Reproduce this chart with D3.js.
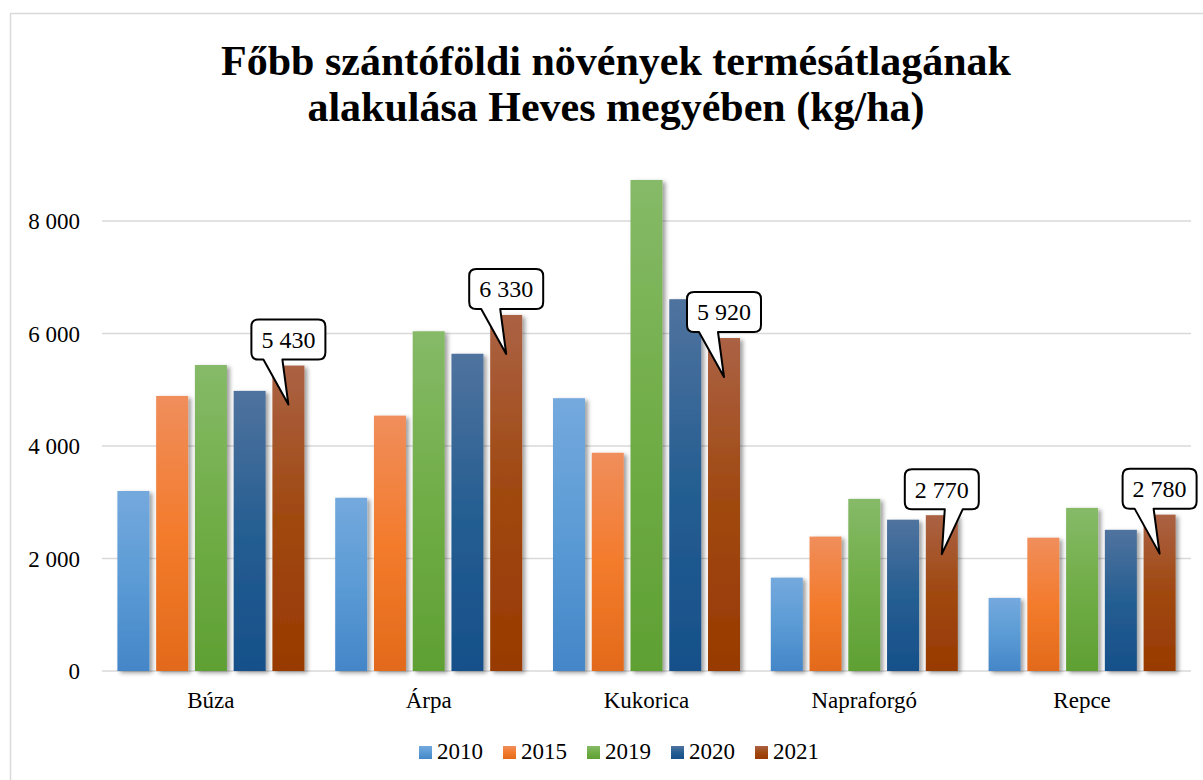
<!DOCTYPE html>
<html>
<head>
<meta charset="utf-8">
<script src="https://cdn.jsdelivr.net/npm/d3@7"></script>
<style>
  html, body { margin: 0; padding: 0; background: #fff; }
  svg { display: block; }
</style>
</head>
<body>
<svg id="chart" width="1203" height="780"></svg>
<script>
const titleLines = ["Főbb szántóföldi növények termésátlagának", "alakulása Heves megyében (kg/ha)"];
const categories = ["Búza", "Árpa", "Kukorica", "Napraforgó", "Repce"];
const years = ["2010", "2015", "2019", "2020", "2021"];
const values2010 = [3200, 3080, 4850, 1660, 1300];
const values2015 = [4890, 4540, 3880, 2390, 2370];
const values2019 = [5440, 6040, 8730, 3060, 2900];
const values2020 = [4980, 5640, 6610, 2690, 2510];
const values2021 = [5430, 6330, 5920, 2770, 2780];
const yTicks = [0, 2000, 4000, 6000, 8000];
const calloutLean = [-1, -1, -1, 1, -1];
const seriesColors = {
  "2010": ["#74a9dd", "#5b9bd5", "#4486c8"],
  "2015": ["#f08e5c", "#f37b2c", "#e26a1a"],
  "2019": ["#86ba68", "#70ad47", "#5fa033"],
  "2020": ["#50739f", "#255e91", "#16508a"],
  "2021": ["#ab6244", "#a04810", "#983a02"]
};

const seriesValues = [values2010, values2015, values2019, values2020, values2021];

const svg = d3.select("#chart");
const serif = "'Liberation Serif', 'Times New Roman', serif";

// chart frame
svg.append("rect").attr("x", 10.5).attr("y", 13.5).attr("width", 1400).attr("height", 1000)
  .attr("fill", "#fff").attr("stroke", "#d9d9d9").attr("stroke-width", 1.5);

const defs = svg.append("defs");
years.forEach(y => {
  const g = defs.append("linearGradient").attr("id", "grad" + y)
    .attr("x1", 0).attr("y1", 0).attr("x2", 0).attr("y2", 1);
  g.append("stop").attr("offset", "0%").attr("stop-color", seriesColors[y][0]);
  g.append("stop").attr("offset", "50%").attr("stop-color", seriesColors[y][1]);
  g.append("stop").attr("offset", "100%").attr("stop-color", seriesColors[y][2]);
});
const f = defs.append("filter").attr("id", "shadow").attr("x", "-20%").attr("y", "-5%").attr("width", "150%").attr("height", "115%");
f.append("feDropShadow").attr("dx", 3).attr("dy", 2).attr("stdDeviation", 2.2)
  .attr("flood-color", "#000").attr("flood-opacity", 0.38);

// title
const title = svg.append("text").attr("text-anchor", "middle")
  .attr("font-family", serif).attr("font-weight", "bold").attr("font-size", 42).attr("fill", "#000");
titleLines.forEach((t, i) => {
  title.append("tspan").attr("x", 616).attr("y", 75 + i * 46).text(t);
});

// scales
const plotLeft = 102, plotRight = 1191, plotBottom = 671, plotTop = 221;
const x0 = d3.scaleBand().domain(categories).range([plotLeft, plotRight]).paddingInner(0.1414).paddingOuter(0.0707);
const x1 = d3.scaleBand().domain(years).range([0, x0.bandwidth()]).paddingInner(0.174).paddingOuter(0);
const y = d3.scaleLinear().domain([0, 8000]).range([plotBottom, plotTop]);

const locale = d3.formatLocale({ thousands: " ", grouping: [3], decimal: ",", currency: ["", ""] });
const fmt = locale.format(",d");

// gridlines
svg.append("g").selectAll("line").data(yTicks).join("line")
  .attr("x1", plotLeft).attr("x2", plotRight)
  .attr("y1", d => y(d)).attr("y2", d => y(d))
  .attr("stroke", "#d9d9d9").attr("stroke-width", 1.5);

// y labels
svg.append("g").selectAll("text").data(yTicks).join("text")
  .attr("x", 80).attr("y", d => y(d)).attr("dy", "0.35em")
  .attr("text-anchor", "end").attr("font-family", serif).attr("font-size", 23).attr("fill", "#000")
  .text(d => fmt(d));

// bars
const barData = [];
categories.forEach((c, ci) => {
  years.forEach((yr, si) => {
    barData.push({ cat: c, year: yr, value: seriesValues[si][ci], ci });
  });
});
svg.append("g").selectAll("rect").data(barData).join("rect")
  .attr("x", d => x0(d.cat) + x1(d.year))
  .attr("y", d => y(d.value))
  .attr("width", x1.bandwidth())
  .attr("height", d => plotBottom - y(d.value))
  .attr("fill", d => `url(#grad${d.year})`)
  .attr("filter", "url(#shadow)");

// category labels
svg.append("g").selectAll("text").data(categories).join("text")
  .attr("x", d => x0(d) + x0.bandwidth() / 2).attr("y", 708)
  .attr("text-anchor", "middle").attr("font-family", serif).attr("font-size", 23).attr("fill", "#000")
  .text(d => d);

// callouts for 2021
const bw = 74, bh = 40, r = 7;
const callouts = svg.append("g");
categories.forEach((c, ci) => {
  const v = values2021[ci];
  const cx = x0(c) + x1("2021") + x1.bandwidth() / 2;
  const top = y(v);
  const bx0 = cx - bw / 2, bx1 = cx + bw / 2;
  const by1 = top - 6, by0 = by1 - bh;
  const tipX = cx, tipY = top + 39;
  let tb1, tb2;
  if (calloutLean[ci] < 0) { tb1 = cx - 25; tb2 = cx - 6; } else { tb1 = cx + 3; tb2 = cx + 21; }
  const p = `M${bx0 + r},${by0} H${bx1 - r} Q${bx1},${by0} ${bx1},${by0 + r} V${by1 - r} Q${bx1},${by1} ${bx1 - r},${by1} H${tb2} L${tipX},${tipY} L${tb1},${by1} H${bx0 + r} Q${bx0},${by1} ${bx0},${by1 - r} V${by0 + r} Q${bx0},${by0} ${bx0 + r},${by0} Z`;
  callouts.append("path").attr("d", p).attr("fill", "#fff").attr("stroke", "#000").attr("stroke-width", 2).attr("stroke-linejoin", "round");
  callouts.append("text").attr("x", cx).attr("y", by0 + bh / 2).attr("dy", "0.35em")
    .attr("text-anchor", "middle").attr("font-family", serif).attr("font-size", 24).attr("fill", "#000")
    .text(fmt(v));
});

// legend
const legend = svg.append("g");
const legendX = d3.scalePoint().domain(years).range([419, 755]);
years.forEach(yr => {
  const lx = legendX(yr);
  legend.append("rect").attr("x", lx).attr("y", 746).attr("width", 13).attr("height", 13)
    .attr("fill", `url(#grad${yr})`);
  legend.append("text").attr("x", lx + 18).attr("y", 759)
    .attr("font-family", serif).attr("font-size", 23).attr("fill", "#000").text(yr);
});
</script>
</body>
</html>
